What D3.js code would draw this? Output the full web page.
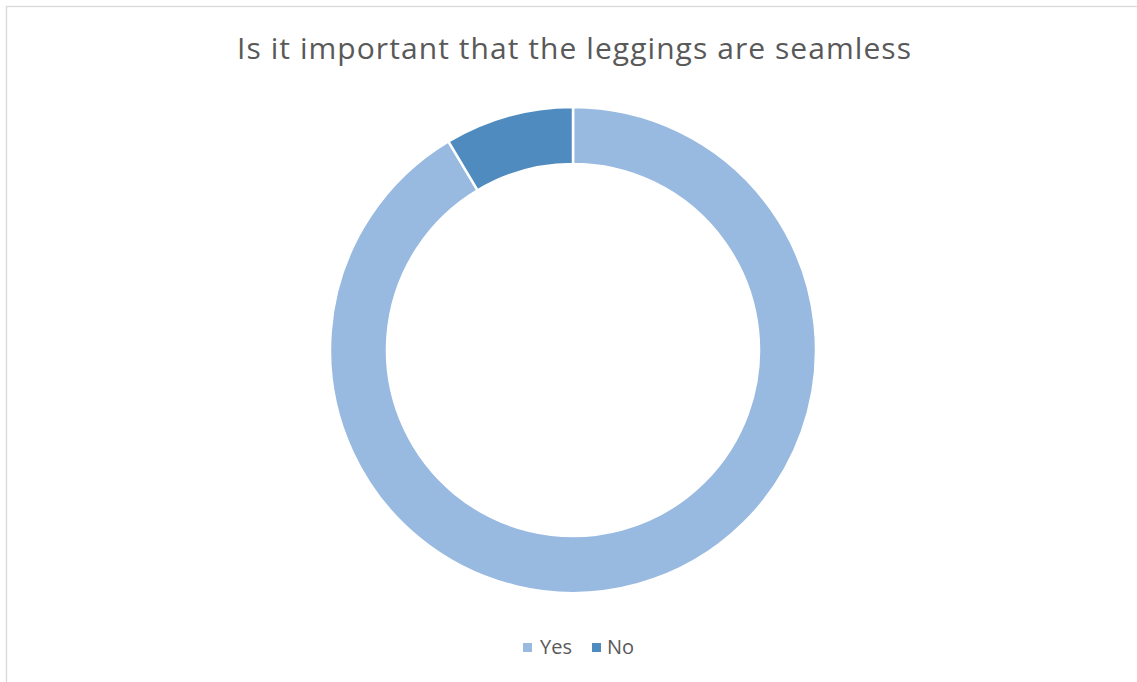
<!DOCTYPE html>
<html>
<head>
<meta charset="utf-8">
<script src="https://cdn.jsdelivr.net/npm/d3@7"></script>
<style>
  html, body { margin: 0; padding: 0; background: #fff; }
  svg { display: block; }
</style>
</head>
<body>
<svg id="chart" width="1137" height="682"></svg>
<script>
const categories = ["Yes", "No"];
const values = [32, 3];
const colors = ["#98B9E0", "#4F8BBE"];
const title = "Is it important that the leggings are seamless";

const svg = d3.select("#chart");
const W = 1137, H = 682;

// frame
svg.append("rect")
  .attr("x", 6.5).attr("y", 6.5)
  .attr("width", W + 20).attr("height", H + 20)
  .attr("fill", "#fff").attr("stroke", "#d9d9d9").attr("stroke-width", 1.3);

svg.append("text")
  .attr("x", 574).attr("y", 59)
  .attr("text-anchor", "middle")
  .attr("font-family", "'Open Sans', sans-serif")
  .attr("font-size", 30)
  .attr("fill", "#595959")
  .attr("textLength", 674)
  .attr("lengthAdjust", "spacing")
  .text(title);

const cx = 573, cy = 350, rOuter = 243, rInner = 186;
const data = categories.map((c, i) => ({ cat: c, value: values[i] }));
const pie = d3.pie().value(d => d.value).sort(null);
const arc = d3.arc().innerRadius(rInner).outerRadius(rOuter);
const color = d3.scaleOrdinal().domain(categories).range(colors);

svg.append("g").attr("transform", `translate(${cx},${cy})`)
  .selectAll("path").data(pie(data)).join("path")
  .attr("d", arc)
  .attr("fill", d => color(d.data.cat))
  .attr("stroke", "#fff").attr("stroke-width", 2.5);

// legend
const legendItems = [
  { cat: "Yes", sx: 523, tx: 540 },
  { cat: "No", sx: 592, tx: 607 }
];
const lg = svg.append("g");
legendItems.forEach(it => {
  lg.append("rect").attr("x", it.sx).attr("y", 643).attr("width", 9).attr("height", 9)
    .attr("fill", color(it.cat));
  lg.append("text").attr("x", it.tx).attr("y", 654)
    .attr("font-family", "'Open Sans', sans-serif").attr("font-size", 20)
    .attr("fill", "#595959").text(it.cat);
});
</script>
</body>
</html>
